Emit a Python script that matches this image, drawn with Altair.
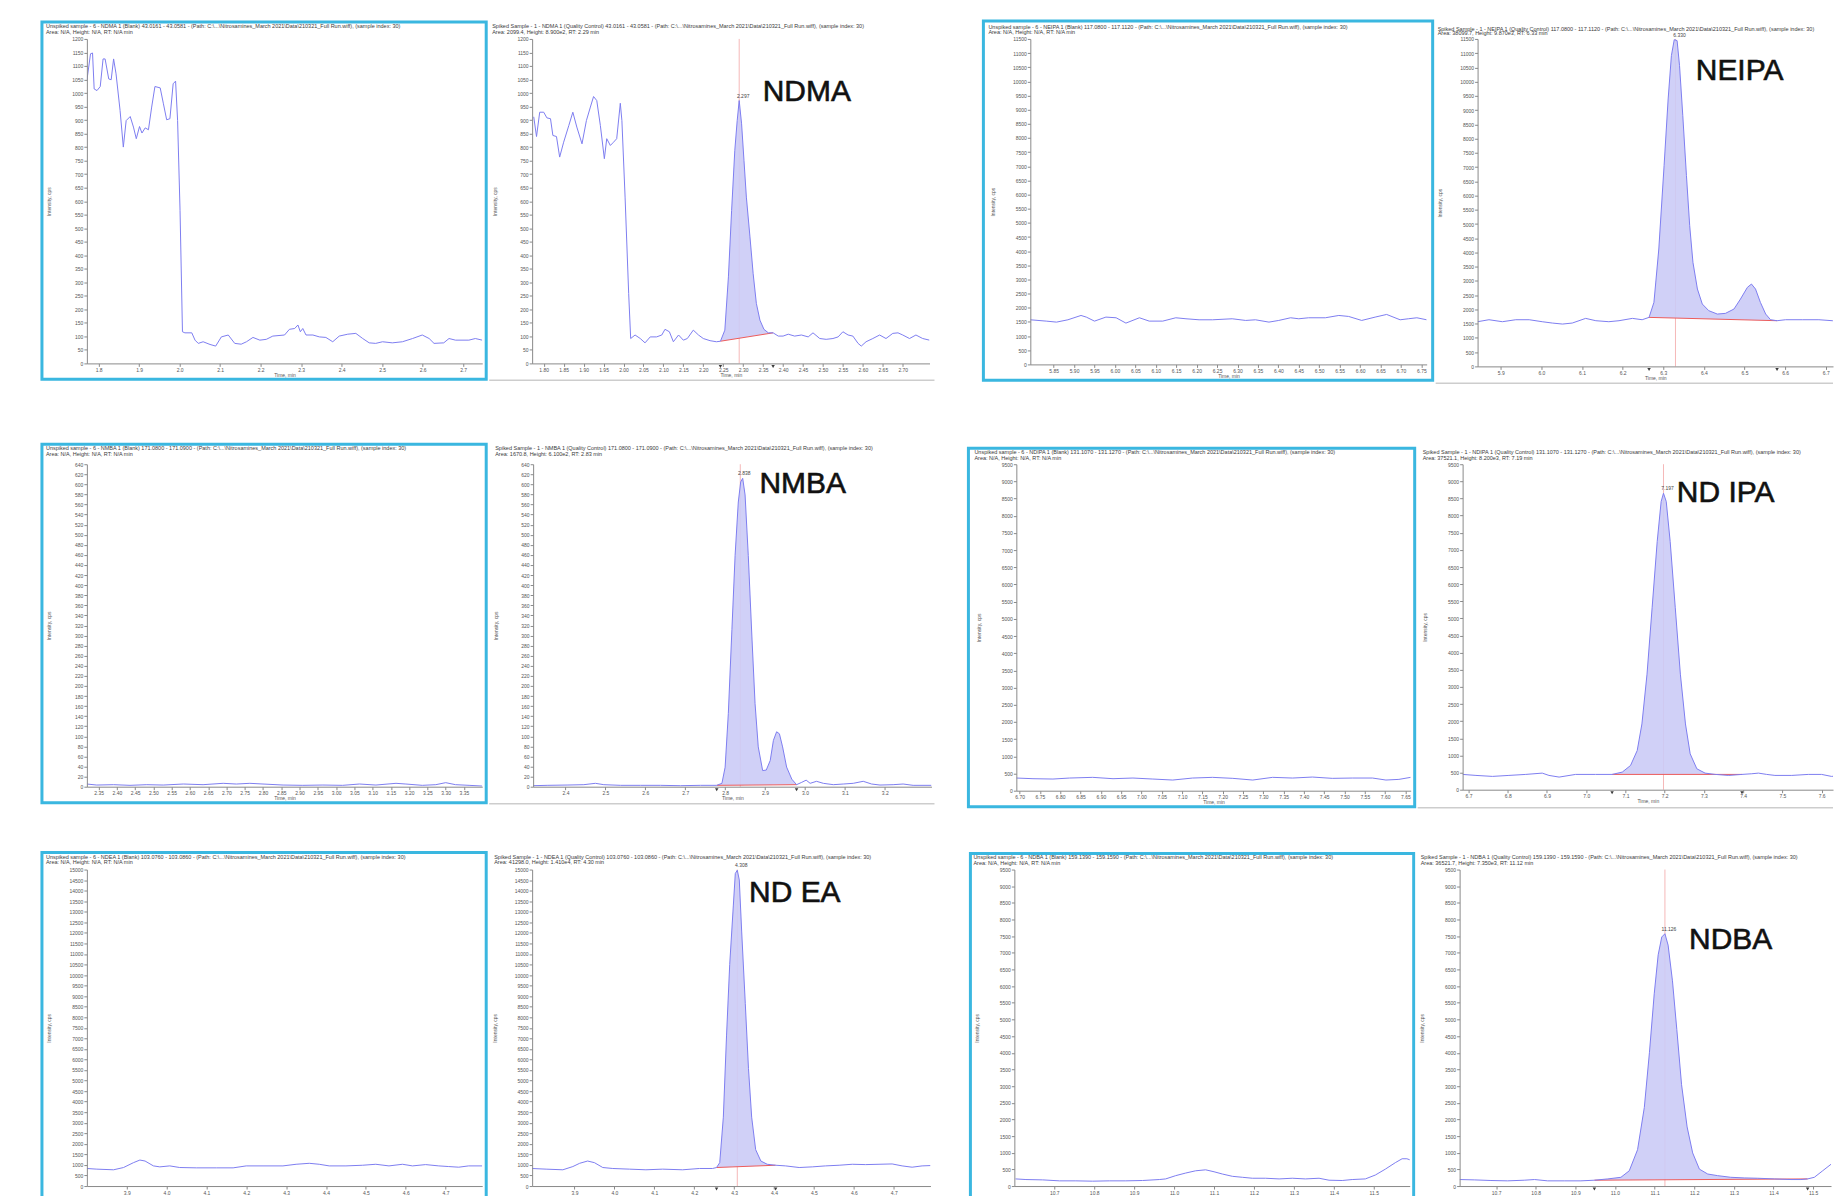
import altair as alt
import pandas as pd

# ---------------- data ----------------
# Row 1 : NDMA (blank / spiked), NEIPA (blank / spiked)
NDMA_BLANK_T = [1.771,1.780,1.785,1.789,1.796,1.804,1.811,1.816,1.825,1.831,1.837,1.843,1.853,1.861,1.868,
                1.878,1.886,1.893,1.901,1.907,1.915,1.923,1.931,1.939,1.952,1.960,1.968,1.976,1.984,1.990,
                1.995,2.001,2.007,2.013,2.030,2.038,2.046,2.058,2.075,2.089,2.103,2.120,2.136,2.152,2.165,
                2.181,2.198,2.214,2.230,2.259,2.271,2.284,2.292,2.298,2.304,2.312,2.329,2.345,2.361,2.378,
                2.394,2.415,2.435,2.452,2.468,2.484,2.501,2.525,2.550,2.575,2.599,2.616,2.628,2.652,2.665,
                2.681,2.714,2.730,2.747]
NDMA_BLANK_I = [1046,1145,1148,1015,1009,1024,1126,1126,1052,1049,1126,1071,935,800,898,
                913,874,831,876,852,871,864,948,1024,1019,960,901,905,1034,1044,
                898,566,117,113,113,86,74,80,70,64,98,105,74,71,80,
                96,86,89,101,105,126,129,142,117,129,105,105,98,96,80,
                101,108,111,92,76,74,80,76,80,92,105,92,74,76,92,
                86,86,92,86]

NDMA_SPIKED_T = [1.775,1.782,1.790,1.800,1.808,1.817,1.823,1.832,1.840,1.850,1.863,1.873,1.883,1.896,1.907,
                 1.917,1.925,1.933,1.942,1.952,1.958,1.967,1.975,1.983,1.992,1.996,2.004,2.013,2.018,2.029,
                 2.042,2.054,2.067,2.083,2.096,2.104,2.115,2.125,2.138,2.150,2.160,2.175,2.188,2.200,2.217,
                 2.233,2.243,2.254,2.263,2.271,2.279,2.285,2.290,2.296,2.302,2.308,2.317,2.325,2.333,2.342,
                 2.352,2.363,2.375,2.388,2.400,2.413,2.429,2.446,2.463,2.475,2.492,2.508,2.525,2.538,2.550,
                 2.563,2.575,2.588,2.596,2.608,2.625,2.642,2.658,2.675,2.688,2.700,2.717,2.733,2.750,2.767]
NDMA_SPIKED_I = [912,839,929,929,908,905,843,839,763,818,880,929,874,812,898,
                 948,987,972,880,757,831,806,818,831,962,898,615,258,92,105,
                 92,76,98,98,105,126,117,80,105,86,92,123,105,92,84,
                 80,82,123,320,566,788,898,972,886,751,615,468,332,222,160,
                 126,113,113,101,101,108,101,105,98,113,92,89,92,98,117,
                 105,101,74,64,80,92,105,92,111,113,105,92,105,92,86]

NEIPA_BLANK_T = [5.793,5.832,5.857,5.885,5.917,5.930,5.950,5.978,6.003,6.027,6.060,6.084,6.117,6.149,6.174,
                 6.206,6.239,6.287,6.320,6.344,6.377,6.401,6.430,6.450,6.474,6.515,6.548,6.572,6.604,6.637,
                 6.665,6.698,6.718,6.739,6.763]
NEIPA_BLANK_I = [1576,1529,1494,1576,1729,1671,1529,1671,1647,1459,1647,1529,1529,1647,1612,
                 1576,1576,1612,1553,1576,1494,1553,1647,1612,1647,1647,1729,1694,1553,1671,
                 1765,1576,1612,1647,1576]

NEIPA_SPIKED_T = [5.843,5.871,5.904,5.937,5.970,6.002,6.027,6.052,6.076,6.109,6.134,6.166,6.191,6.224,6.248,
                  6.265,6.277,6.289,6.302,6.312,6.320,6.327,6.334,6.340,6.348,6.357,6.365,6.373,6.384,6.396,
                  6.412,6.433,6.453,6.474,6.490,6.507,6.517,6.527,6.539,6.552,6.564,6.580,6.601,6.642,6.683,
                  6.716,6.737,6.765,6.800]
NEIPA_SPIKED_I = [1569,1639,1569,1639,1639,1569,1522,1487,1522,1686,1604,1569,1604,1686,1639,
                  1721,2248,4122,7049,9391,10913,11475,11440,10562,8806,6698,4941,3653,2717,2190,
                  1956,1838,1862,2014,2365,2775,2892,2717,2248,1838,1639,1604,1639,1639,1639,
                  1604,1604,1639,1604]

# Row 2 : NMBA, NDIPA
NMBA_BLANK_T = [2.318,2.345,2.391,2.436,2.482,2.527,2.582,2.636,2.691,2.727,2.764,2.800,2.855,2.909,2.964,
                3.018,3.064,3.109,3.164,3.191,3.236,3.273,3.300,3.327,3.364,3.400]
NMBA_BLANK_I = [5.3,3.3,4.0,2.7,4.0,3.3,5.3,4.0,6.7,5.3,6.7,5.3,3.3,2.7,3.3,
                2.7,5.3,3.3,6.7,5.3,2.7,4.0,8.0,4.0,2.7,1.3]

NMBA_SPIKED_T = [2.319,2.354,2.404,2.446,2.475,2.496,2.538,2.588,2.638,2.688,2.738,2.779,2.792,2.800,2.808,
                 2.817,2.825,2.833,2.839,2.844,2.850,2.858,2.867,2.875,2.883,2.894,2.903,2.913,2.921,2.929,
                 2.936,2.944,2.954,2.967,2.979,2.992,3.003,3.013,3.029,3.046,3.071,3.096,3.121,3.146,3.167,
                 3.188,3.221,3.246,3.271,3.317]
NMBA_SPIKED_I = [2.0,2.7,3.3,4.0,6.7,4.0,2.7,2.7,2.7,2.0,2.7,2.7,6.7,38.7,145,
                 312,459,565,605,612,579,459,299,165,79,32,33,52,92,109,
                 105,79,39,15,4.0,8.7,13,6.7,10.7,6.7,4.0,5.3,6.7,10.7,5.3,
                 3.3,4.0,5.3,2.7,2.7]

NDIPA_BLANK_T = [6.692,6.733,6.782,6.823,6.880,6.930,6.979,7.028,7.077,7.126,7.175,7.225,7.274,7.323,7.372,
                 7.421,7.470,7.520,7.569,7.602,7.634,7.663]
NDIPA_BLANK_I = [368,349,339,368,388,349,368,339,310,368,388,359,310,388,368,
                 397,359,368,368,310,329,388]

NDIPA_SPIKED_T = [6.685,6.719,6.761,6.803,6.846,6.888,6.905,6.931,6.973,7.024,7.066,7.092,7.113,7.130,7.142,
                  7.155,7.168,7.181,7.191,7.197,7.204,7.214,7.227,7.240,7.253,7.265,7.282,7.303,7.329,7.363,
                  7.397,7.422,7.439,7.460,7.481,7.524,7.566,7.600,7.625,7.647,7.685]
NDIPA_SPIKED_I = [446,417,388,417,446,484,417,368,446,446,446,514,707,1143,1919,
                  3372,5310,7248,8411,8653,8411,7248,5310,3372,1919,1047,610,484,446,417,
                  446,465,484,446,417,417,446,446,388,407,426]

# Row 3 : NDEA, NDBA
NDEA_BLANK_T = [3.800,3.825,3.867,3.892,3.917,3.933,3.946,3.967,3.983,4.008,4.033,4.075,4.125,4.167,4.200,
                4.242,4.292,4.325,4.358,4.383,4.408,4.450,4.492,4.525,4.558,4.592,4.617,4.650,4.683,4.708,
                4.733,4.758,4.792]
NDEA_BLANK_I = [832,801,770,878,1109,1232,1186,955,909,955,878,862,862,862,955,
                955,955,1032,1078,1032,955,955,986,1032,955,1032,955,1016,955,924,
                893,955,955]

NDEA_SPIKED_T = [3.794,3.829,3.871,3.896,3.913,3.933,3.950,3.971,3.996,4.038,4.079,4.121,4.171,4.213,4.246,
                 4.256,4.264,4.273,4.281,4.289,4.298,4.303,4.308,4.313,4.319,4.328,4.336,4.344,4.354,4.367,
                 4.383,4.404,4.429,4.463,4.496,4.529,4.563,4.596,4.629,4.663,4.696,4.721,4.746,4.771,4.792]
NDEA_SPIKED_I = [832,801,770,924,1078,1186,1109,878,832,801,770,801,770,832,832,
                 878,1109,3265,7115,10503,13275,14815,14969,14507,12043,8655,5575,3265,1725,1186,
                 1032,986,955,878,909,955,986,1032,1016,1032,1047,955,893,955,970]

NDBA_BLANK_T = [10.603,10.629,10.671,10.713,10.754,10.796,10.838,10.879,10.921,10.963,10.979,11.004,11.029,11.054,11.079,
                11.100,11.121,11.146,11.171,11.196,11.229,11.263,11.296,11.329,11.363,11.388,11.421,11.446,11.479,11.504,
                11.529,11.554,11.571,11.583,11.592]
NDBA_BLANK_I = [214,195,185,156,156,146,156,156,166,195,214,312,390,458,487,
                429,361,292,263,234,234,214,234,214,234,175,166,195,214,331,
                507,702,819,819,780]

NDBA_SPIKED_T = [10.608,10.645,10.687,10.729,10.771,10.797,10.830,10.872,10.914,10.948,10.982,11.015,11.036,11.057,11.074,
                 11.087,11.099,11.109,11.118,11.126,11.134,11.145,11.156,11.168,11.182,11.196,11.213,11.234,11.259,11.292,
                 11.326,11.360,11.402,11.444,11.469,11.486,11.503,11.524,11.545,11.566,11.603]
NDBA_SPIKED_I = [195,185,166,156,175,195,156,156,156,175,214,263,458,1092,2359,
                 4016,5770,6940,7476,7573,7232,6160,4698,3041,1774,994,507,361,312,263,
                 244,234,214,195,195,214,263,458,653,751,994]

# tick labels
Y_NDMA = list(range(0, 1201, 50))
Y_NEIPA = list(range(0, 11501, 500))
Y_NMBA = list(range(0, 641, 20))
Y_NDIPA = list(range(0, 9501, 500))
Y_NDEA = list(range(0, 15001, 500))
Y_NDBA = list(range(0, 9501, 500))

X_NDMA_BLANK = [1.8, 1.9, 2.0, 2.1, 2.2, 2.3, 2.4, 2.5, 2.6, 2.7]
X_NDMA_SPIKED = [1.80,1.85,1.90,1.95,2.00,2.05,2.10,2.15,2.20,2.25,2.30,2.35,2.40,2.45,2.50,2.55,2.60,2.65,2.70]
X_NEIPA_BLANK = [5.85,5.90,5.95,6.00,6.05,6.10,6.15,6.20,6.25,6.30,6.35,6.40,6.45,6.50,6.55,6.60,6.65,6.70,6.75]
X_NEIPA_SPIKED = [5.9, 6.0, 6.1, 6.2, 6.3, 6.4, 6.5, 6.6, 6.7]
X_NMBA_BLANK = [2.35,2.40,2.45,2.50,2.55,2.60,2.65,2.70,2.75,2.80,2.85,2.90,2.95,3.00,3.05,3.10,3.15,3.20,3.25,3.30,3.35]
X_NMBA_SPIKED = [2.4, 2.5, 2.6, 2.7, 2.8, 2.9, 3.0, 3.1, 3.2]
X_NDIPA_BLANK = [6.70,6.75,6.80,6.85,6.90,6.95,7.00,7.05,7.10,7.15,7.20,7.25,7.30,7.35,7.40,7.45,7.50,7.55,7.60,7.65]
X_NDIPA_SPIKED = [6.7, 6.8, 6.9, 7.0, 7.1, 7.2, 7.3, 7.4, 7.5, 7.6]
X_NDEA = [3.9, 4.0, 4.1, 4.2, 4.3, 4.4, 4.5, 4.6, 4.7]
X_NDBA = [10.7, 10.8, 10.9, 11.0, 11.1, 11.2, 11.3, 11.4, 11.5, 11.6]

# ---------------- style ----------------
LINE = "#7d7df0"
FILL = "#cbcbf6"
RED = "#ec5b5b"
RTRED = "#f2a6a6"
CYAN = "#3ab7e0"
FONT = "Liberation Sans"
PATH = "(Path: C:\\...\\Nitrosamines_March 2021\\Data\\210321_Full Run.wiff), (sample index: 30)"
RIGHT_EDGE = 1834   # page x where the visible window ends
BOTTOM_EDGE = 1196  # page y where the visible window ends


def panel(T, I, g):
    px, py = g["plot"]
    w, h = g["w"], g["h"]
    fx0, fy0, fx1, fy1 = g["frame"]
    one = pd.DataFrame({"k": [0]})
    d0, d1 = g["xdom"]
    xticks = [v for v in g["xticks"] if d0 <= v <= d1]
    xs = alt.Scale(domain=g["xdom"], nice=False, zero=False)
    ys = alt.Scale(domain=g["ydom"], nice=False, zero=False)
    common = dict(labelFontSize=5, labelColor="#555", labelFont=FONT, tickColor="#8a8a8a",
                  domainColor="#8a8a8a", tickSize=3, labelPadding=1, grid=False, zindex=1,
                  titleFontSize=5, titleColor="#555", titleFont=FONT, titleFontWeight="normal",
                  labelOverlap=False)
    xax = alt.Axis(values=xticks, format=g["xfmt"], title=g.get("xtitle", "Time, min"),
                   titleX=w / 2, titleY=9, titleBaseline="top", **common)
    yax = alt.Axis(values=g["yticks"], format="d", title="Intensity, cps",
                   titleX=-38, titleY=h / 2, titleAngle=-90, titleBaseline="middle",
                   titleAlign="center", **common)
    X = alt.X("t:Q", scale=xs, axis=xax)
    Y = alt.Y("v:Q", scale=ys, axis=yax)

    layers = [alt.Chart(one).mark_rect(fill="white").encode(
        x=alt.value(fx0 - px), x2=alt.value(fx1 - px),
        y=alt.value(fy0 - py), y2=alt.value(fy1 - py))]
    if "cyan" in g:
        cx0, cy0, cx1, cy1 = g["cyan"]
        if g.get("open_bottom"):
            rule = dict(color=CYAN, strokeWidth=3)
            layers.append(alt.Chart(one).mark_rule(**rule).encode(
                x=alt.value(cx0 - px), x2=alt.value(cx1 - px), y=alt.value(cy0 - py)))
            for cx in (cx0, cx1):
                layers.append(alt.Chart(one).mark_rule(**rule).encode(
                    x=alt.value(cx - px), y=alt.value(cy0 - py - 1.5), y2=alt.value(cy1 - py)))
        else:
            layers.append(alt.Chart(one).mark_rect(fillOpacity=0, stroke=CYAN, strokeWidth=3).encode(
                x=alt.value(cx0 - px), x2=alt.value(cx1 - px),
                y=alt.value(cy0 - py), y2=alt.value(cy1 - py)))
    if "gray" in g:
        gx0, gx1, gy = g["gray"]
        layers.append(alt.Chart(one).mark_rule(color="#cdcdcd", strokeWidth=1.5).encode(
            x=alt.value(gx0 - px), x2=alt.value(gx1 - px), y=alt.value(gy - py)))
    hx, hy1, hy2 = g["head"]
    for yy, txt in ((hy1, g["h1"]), (hy2, g["h2"])):
        layers.append(alt.Chart(one).mark_text(
            align="left", baseline="middle", fontSize=5.5, color="#3a3a3a", font=FONT,
            limit=fx1 - hx - 6).encode(
            x=alt.value(hx - px), y=alt.value(yy - py), text=alt.value(txt)))

    df = pd.DataFrame({"t": T, "v": I})
    pk = g.get("peak")
    if pk:
        t0, t1 = pk["start"], pk["end"]
        b0 = df.loc[df.t == t0, "v"].iloc[0]
        b1 = df.loc[df.t == t1, "v"].iloc[0]
        seg = df[(df.t >= t0) & (df.t <= t1)].copy()
        seg["b"] = b0 + (b1 - b0) * (seg.t - t0) / (t1 - t0)
        layers.append(alt.Chart(pd.DataFrame({"t": [pk["rt"]]})).mark_rule(
            color=RTRED, strokeWidth=0.8).encode(x=X, y=alt.value(0), y2=alt.value(h)))
        layers.append(alt.Chart(seg).mark_area(color=FILL, opacity=0.9, clip=True).encode(
            x=X, y=Y, y2=alt.Y2("b:Q")))
        layers.append(alt.Chart(pd.DataFrame({"t": [t0, t1], "v": [b0, b1]})).mark_line(
            color=RED, strokeWidth=1, clip=True).encode(x=X, y=Y))
        tri = [t for t in (t0, t1) if d0 <= t <= d1]
        layers.append(alt.Chart(pd.DataFrame({"t": tri})).mark_point(
            shape="triangle-down", filled=True, size=12, color="#3b3b3b", opacity=1).encode(
            x=X, y=alt.value(h + 3)))
    layers.append(alt.Chart(df).mark_line(color=LINE, strokeWidth=1, clip=True).encode(x=X, y=Y))
    if pk:
        layers.append(alt.Chart(pd.DataFrame({"t": [pk["rt"]], "v": [pk["top"]],
                                              "label": [pk["rtlabel"]]})).mark_text(
            fontSize=5, color="#444", font=FONT, baseline="bottom", dy=-2, dx=4).encode(
            x=X, y=Y, text="label:N"))
        layers.append(alt.Chart(pd.DataFrame({"t": [pk["lx"]], "v": [pk["ly"]],
                                              "label": [pk["name"]]})).mark_text(
            fontSize=30, color="#111111", stroke="#111111", strokeWidth=0.6, font=FONT,
            align="left", baseline="alphabetic").encode(
            x=X, y=Y, text="label:N"))
    return alt.layer(*layers).properties(width=w, height=h)


def blank_head(cmpd, mz):
    return (f"Unspiked sample - 6 - {cmpd} 1 (Blank) {mz} - {PATH}",
            "Area: N/A, Height: N/A, RT: N/A min")


def spiked_head(cmpd, mz, area, height, rt):
    return (f"Spiked Sample - 1 - {cmpd} 1 (Quality Control) {mz} - {PATH}",
            f"Area: {area}, Height: {height}, RT: {rt} min")


G = []
# ---- row 1 ----
h1, h2 = blank_head("NDMA", "43.0161 - 43.0581")
G.append(dict(plot=(87, 38), w=396, h=325, frame=(8, 8, 489, 440), cyan=(42, 21, 487, 379),
              head=(46, 25, 31.5), h1=h1, h2=h2, xdom=[1.771, 2.747], ydom=[0, 1200],
              xticks=X_NDMA_BLANK, xfmt=".1f", yticks=Y_NDMA))
h1, h2 = spiked_head("NDMA", "43.0161 - 43.0581", "2099.4", "8.900e2", "2.29")
G.append(dict(plot=(532, 38), w=398, h=325, frame=(489, 8, 958, 440), gray=(489, 935, 380),
              head=(492, 25, 31.5), h1=h1, h2=h2, xdom=[1.771, 2.767], ydom=[0, 1200],
              xticks=X_NDMA_SPIKED, xfmt=".2f", yticks=Y_NDMA,
              peak=dict(start=2.243, end=2.375, rt=2.290, top=972, rtlabel="2.297",
                        name="NDMA", lx=2.349, ly=972)))
h1, h2 = blank_head("NEIPA", "117.0800 - 117.1120")
G.append(dict(plot=(1031, 35), w=397, h=326, frame=(958, 8, 1436, 440), cyan=(984, 17, 1434, 377),
              head=(989, 22.7, 28), h1=h1, h2=h2, xdom=[5.793, 6.763], ydom=[0, 11500],
              xticks=X_NEIPA_BLANK, xfmt=".2f", yticks=Y_NEIPA))
h1, h2 = spiked_head("NEIPA", "117.0800 - 117.1120", "38099.7", "9.870e3", "6.33")
G.append(dict(plot=(1478, 33), w=RIGHT_EDGE - 1478, h=328, frame=(1436, 8, RIGHT_EDGE, 440),
              gray=(1436, RIGHT_EDGE, 378),
              head=(1438, 22.7, 27.5), h1=h1, h2=h2,
              xdom=[5.843, 5.843 + (RIGHT_EDGE - 1478) / 407.0], ydom=[0, 11500],
              xticks=X_NEIPA_SPIKED, xfmt=".1f", yticks=Y_NEIPA,
              peak=dict(start=6.265, end=6.580, rt=6.330, top=11475, rtlabel="6.330",
                        name="NEIPA", lx=6.38, ly=10070)))
# ---- row 2 ----
h1, h2 = blank_head("NMBA", "171.0800 - 171.0900")
G.append(dict(plot=(87, 463), w=396, h=323, frame=(8, 440, 489, 848), cyan=(42, 443, 487, 802),
              head=(46, 447, 453), h1=h1, h2=h2, xdom=[2.318, 3.400], ydom=[0, 640],
              xticks=X_NMBA_BLANK, xfmt=".2f", yticks=Y_NMBA))
h1, h2 = spiked_head("NMBA", "171.0800 - 171.0900", "1670.8", "6.100e2", "2.83")
G.append(dict(plot=(533, 463), w=399, h=323, frame=(489, 440, 945, 848), gray=(489, 935, 803),
              head=(495, 447, 453), h1=h1, h2=h2, xdom=[2.319, 3.317], ydom=[0, 640],
              xticks=X_NMBA_SPIKED, xfmt=".1f", yticks=Y_NMBA,
              peak=dict(start=2.779, end=2.979, rt=2.838, top=612, rtlabel="2.838",
                        name="NMBA", lx=2.886, ly=583)))
h1, h2 = blank_head("NDIPA", "131.1070 - 131.1270")
G.append(dict(plot=(1017, 459), w=395, h=327, frame=(945, 440, 1418, 848), cyan=(969, 443, 1416, 802),
              head=(975, 447, 452.5), h1=h1, h2=h2, xdom=[6.692, 7.663], ydom=[0, 9500],
              xticks=X_NDIPA_BLANK, xfmt=".2f", yticks=Y_NDIPA))
h1, h2 = spiked_head("NDIPA", "131.1070 - 131.1270", "37521.1", "8.200e3", "7.19")
G.append(dict(plot=(1463, 459), w=RIGHT_EDGE - 1463, h=326, frame=(1418, 440, RIGHT_EDGE, 848),
              gray=(1418, RIGHT_EDGE, 803),
              head=(1423, 447, 453), h1=h1, h2=h2,
              xdom=[6.685, 6.685 + (RIGHT_EDGE - 1463) / 393.0], ydom=[0, 9500],
              xticks=X_NDIPA_SPIKED, xfmt=".1f", yticks=Y_NDIPA,
              peak=dict(start=7.066, end=7.397, rt=7.197, top=8653, rtlabel="7.197",
                        name="ND IPA", lx=7.231, ly=8400)))
# ---- row 3 (cut by the bottom of the window) ----
H3 = 317
h1, h2 = blank_head("NDEA", "103.0760 - 103.0860")
G.append(dict(plot=(87, 869), w=396, h=H3, frame=(8, 848, 489, BOTTOM_EDGE),
              cyan=(42, 852, 487, BOTTOM_EDGE), open_bottom=True, xtitle="",
              head=(46, 856, 861.5), h1=h1, h2=h2, xdom=[3.800, 4.792], ydom=[0, 15000],
              xticks=X_NDEA, xfmt=".1f", yticks=Y_NDEA))
h1, h2 = spiked_head("NDEA", "103.0760 - 103.0860", "41298.0", "1.410e4", "4.30")
G.append(dict(plot=(533, 869), w=399, h=H3, frame=(489, 848, 945, BOTTOM_EDGE), xtitle="",
              head=(495, 856, 861.5), h1=h1, h2=h2, xdom=[3.794, 4.792], ydom=[0, 15000],
              xticks=X_NDEA, xfmt=".1f", yticks=Y_NDEA,
              peak=dict(start=4.256, end=4.404, rt=4.308, top=14969, rtlabel="4.308",
                        name="ND EA", lx=4.3375, ly=13458)))
h1, h2 = blank_head("NDBA", "159.1390 - 159.1590")
G.append(dict(plot=(1016, 869), w=396, h=H3, frame=(945, 848, 1418, BOTTOM_EDGE),
              cyan=(972, 853, 1416, BOTTOM_EDGE), open_bottom=True, xtitle="",
              head=(975, 856, 862), h1=h1, h2=h2, xdom=[10.60, 11.59], ydom=[0, 9500],
              xticks=X_NDBA, xfmt=".1f", yticks=Y_NDBA))
h1, h2 = spiked_head("NDBA", "159.1390 - 159.1590", "36521.7", "7.350e3", "11.12")
G.append(dict(plot=(1462, 869), w=RIGHT_EDGE - 1462, h=H3, frame=(1418, 848, RIGHT_EDGE, BOTTOM_EDGE),
              xtitle="", head=(1423, 856, 862), h1=h1, h2=h2,
              xdom=[10.608, 10.608 + (RIGHT_EDGE - 1462) / 397.0], ydom=[0, 9500],
              xticks=X_NDBA, xfmt=".1f", yticks=Y_NDBA,
              peak=dict(start=10.948, end=11.486, rt=11.126, top=7573, rtlabel="11.126",
                        name="NDBA", lx=11.187, ly=7105)))

SERIES = [(NDMA_BLANK_T, NDMA_BLANK_I), (NDMA_SPIKED_T, NDMA_SPIKED_I),
          (NEIPA_BLANK_T, NEIPA_BLANK_I), (NEIPA_SPIKED_T, NEIPA_SPIKED_I),
          (NMBA_BLANK_T, NMBA_BLANK_I), (NMBA_SPIKED_T, NMBA_SPIKED_I),
          (NDIPA_BLANK_T, NDIPA_BLANK_I), (NDIPA_SPIKED_T, NDIPA_SPIKED_I),
          (NDEA_BLANK_T, NDEA_BLANK_I), (NDEA_SPIKED_T, NDEA_SPIKED_I),
          (NDBA_BLANK_T, NDBA_BLANK_I), (NDBA_SPIKED_T, NDBA_SPIKED_I)]

panels = [panel(T, I, g) for (T, I), g in zip(SERIES, G)]
rows = [alt.hconcat(*panels[i:i + 4], spacing=0) for i in (0, 4, 8)]
chart = (alt.vconcat(*rows, spacing=-4)
         .properties(padding=0, background="white")
         .configure_view(stroke=None))

chart.save("out.html", embed_options={"renderer": "svg", "actions": False})
